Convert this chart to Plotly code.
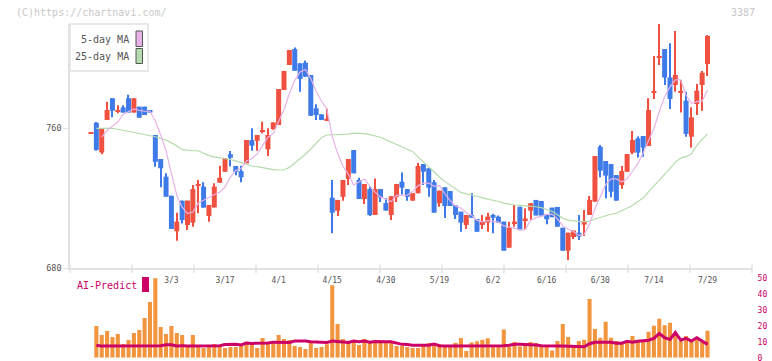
import plotly.graph_objects as go
import pandas as pd

W, H = 772, 361
PL, PR = 70, 752          # plot area left/right in px
X0, DX = 91.0, 5.361      # px of first candle, px per candle

# ---------------- data ----------------
opens = [757, 763, 746, 764.6, 777, 769.5, 771.8, 777, 768.8, 772.2,
         772.2, 770.3, 756, 742.3, 732.2, 721.3, 701, 718.5, 704.6, 705.9,
         727.3, 726.5, 709.7, 714.6, 728.7, 735, 745, 738.3, 735.4, 739.8,
         753.1, 752.7, 758, 747.8, 759.4, 761.7, 781.7, 796, 805.1, 797,
         797.3, 790.3, 771.3, 767.8, 764.6, 720.2, 712.7, 720.7, 730.9, 747.4,
         730.3, 719.4, 725.1, 710.3, 725.1, 717.1, 710.3, 720.7, 729.3, 725.1,
         718.5, 722.7, 739.4, 737, 729, 717, 726.1, 724, 715.8, 712.2,
         704.6, 710.3, 708, 704.6, 705.9, 710.3, 709.3, 706.5, 691.6, 705.5,
         715, 707.4, 712.8, 718.9, 718.3, 710.7, 714.5, 714.9, 703, 689.9,
         697.7, 700.2, 704.8, 710.3, 717.9, 749.3, 741.1, 739.4, 733.1, 727.4,
         735, 745.9, 754.1, 755.4, 749.7, 780, 800, 805.1, 788.9, 784.6,
         780.3, 775.6, 755, 773.7, 784.6, 796.6]
highs = [757, 763.5, 760, 775, 777, 773, 773, 779, 777, 772.2,
         772.2, 770.3, 756, 742.3, 734.1, 721.3, 711.6, 718.5, 718.5, 727.4,
         730.3, 729, 716, 728.5, 738.5, 742.7, 746.9, 738.3, 738.5, 753.1,
         759.8, 756, 763.6, 759.8, 763.2, 782.3, 792.6, 804.6, 806, 797,
         798.5, 790.3, 773.6, 767.8, 771, 730.3, 718.9, 730.3, 742.3, 747.4,
         731.6, 728, 726.6, 731.2, 725.1, 720, 721, 728, 734.6, 725.1,
         722.7, 740, 739.4, 737, 730.3, 724.2, 726.1, 724, 715.8, 712.2,
         710.3, 722.7, 708, 710.3, 711.6, 711, 710, 706.5, 706.5, 716,
         715, 714, 717, 718.9, 718.3, 710.7, 714.5, 714.9, 703, 700.2,
         701.4, 710.3, 713.1, 721.1, 744, 750.3, 741.1, 739.4, 733.1, 738.3,
         745.1, 758.3, 755.2, 755.4, 777, 801.1, 819.4, 805.1, 808.4, 815.4,
         787.4, 780.7, 771.8, 785.1, 792.6, 813.1]
lows = [757, 747, 745, 764.6, 766.1, 768.4, 768.8, 768.8, 768.8, 765.9,
        767.4, 768.8, 737.9, 726.1, 720.7, 702.3, 695.6, 705.5, 701.7, 703.6,
        711.3, 714.5, 706.5, 714.6, 728.7, 735, 738, 733, 729, 739.8,
        747, 747, 757, 744, 759, 761.7, 781.7, 796, 792.7, 780.7,
        789.3, 767, 764.6, 764.6, 764.6, 699.8, 709.7, 718.5, 727.4, 734.1,
        719.4, 716.6, 709.7, 710.3, 717.7, 712.8, 707.4, 717.7, 722, 718.5,
        718.5, 722.7, 727.4, 720.7, 711.6, 715, 708.6, 715.4, 708, 700.7,
        702.3, 708.7, 700.7, 702.3, 700.7, 699.8, 705.9, 689.9, 691.6, 703.6,
        702.1, 702, 707.4, 710, 710, 705, 709, 703.6, 689.9, 684.6,
        696.5, 696, 698.3, 710.3, 717.9, 731.8, 719.8, 720.4, 718.5, 725.3,
        735, 745, 743.2, 743.6, 749.7, 776.6, 796, 784.6, 770.9, 780.7,
        768.8, 755, 748.8, 767.4, 769.9, 789.7]
closes = [757, 747.5, 760, 770.3, 769.9, 770, 768.8, 768.8, 777, 765.9,
          767.4, 768.8, 740.7, 737, 720.7, 702.3, 706.5, 707.4, 718.5, 725.1,
          728, 714.5, 716, 726.5, 731.6, 742.7, 743, 735, 731.8, 753.1,
          749.9, 756, 758.8, 756, 763.2, 782.3, 792.6, 804.6, 792.7, 788,
          789.3, 767, 767.4, 764.6, 765.2, 711.6, 718.9, 730.3, 742.3, 734.1,
          719.4, 728, 710.3, 725.1, 720.4, 712.8, 721, 728, 725.9, 720.7,
          722.7, 738.3, 735, 725.9, 711.6, 724.2, 715.4, 715.4, 710.3, 705.9,
          710.3, 708.7, 700.7, 706.5, 709.3, 708.7, 705.9, 689.9, 703, 706.5,
          702.1, 708.3, 717, 710, 710, 707.8, 709, 703.6, 689.9, 700.2,
          701.4, 698, 706.9, 718.9, 744, 735.6, 732.8, 723.6, 718.5, 735.4,
          745.1, 753.1, 745.9, 748.8, 770.3, 780.8, 800.8, 788.8, 776.6, 790.3,
          781.1, 756.6, 766.1, 781.3, 791.6, 812.6]

ma25 = [None, 759.8, 759.8, 759.8, 759.8, 759.3, 758.7, 758.1, 757.5, 757.0,
        756.5, 755.8, 755.0, 754.0, 753.1, 751.5, 749.8, 747.6, 747.2, 747.0,
        747.0, 745.5, 744.2, 743.5, 743.0, 742.7, 742.0, 741.2, 740.2, 739.0,
        738.3, 737.9, 737.3, 736.8, 736.2, 736.0, 736.0, 737.5, 740.0, 742.0,
        745.0, 748.0, 751.5, 754.5, 756.0, 756.2, 756.2, 756.2, 756.5, 757.1,
        757.1, 756.8, 756.2, 755.5, 754.7, 753.3, 751.8, 750.6, 749.3, 747.9,
        746.5, 743.5, 740.6, 737.5, 734.8, 732.0, 729.5, 727.3, 725.0, 723.2,
        722.4, 721.9, 721.0, 720.1, 719.5, 719.0, 718.0, 717.1, 716.4, 716.0,
        715.8, 715.6, 715.3, 715.0, 714.5, 713.5, 712.4, 710.5, 708.4, 707.4,
        706.8, 706.6, 706.5, 706.8, 708.0, 709.0, 710.0, 710.7, 711.3, 712.8,
        714.3, 715.7, 718.0, 720.0, 723.5, 727.0, 730.3, 733.5, 736.8, 740.5,
        742.8, 743.6, 745.3, 750.0, 753.5, 756.5]

volume = [0, 19.9, 14.3, 16.8, 13, 14.9, 8.6, 11.1, 15.5, 17.4,
          25, 35, 55, 19.3, 14.9, 19.9, 15.5, 14.3, 6.9, 14.3,
          6.9, 6.1, 7.8, 8.6, 7.8, 6.1, 6.7, 6.7, 7.8, 10,
          8.4, 6.1, 12.4, 9.2, 10, 14.3, 11.8, 11.1, 7.3, 6.7,
          5.5, 9.4, 6.1, 6.7, 8.4, 45.7, 21.2, 11.8, 9.9, 11.1,
          8, 11.8, 9.9, 10.5, 9.9, 10.5, 9.9, 7.3, 7.3, 6.7,
          6.1, 6.1, 7.5, 9.2, 7.8, 8.4, 7.5, 7.5, 9.4, 12.4,
          4.2, 9.6, 10.3, 11.3, 12.2, 7, 7, 17.7, 7, 9.9,
          7, 9.2, 9.9, 9.2, 7, 7.5, 4.6, 10.5, 21.2, 13,
          7, 10.5, 11.3, 36.9, 18, 12.6, 22.6, 12.6, 10.5, 9.7,
          10.5, 13.6, 10.5, 10.5, 16.4, 20.1, 24.5, 20.5, 22, 15.3,
          10.5, 13.6, 10.5, 12.8, 10.5, 17]

ai_predict = [None, 7.9, 7.3, 7.3, 7.3, 7.3, 7.3, 7.3, 7.3, 7.3,
              7.3, 7.3, 7.3, 7.5, 8.1, 8.1, 7.4, 7.6, 7.3, 7.3,
              7.3, 7.6, 7.3, 7.3, 7.6, 8.3, 8.3, 8.5, 8.0, 9.3,
              9.0, 9.0, 8.8, 9.2, 9.8, 9.8, 9.4, 9.6, 10.5, 10.5,
              10.5, 10.0, 9.9, 10.0, 9.6, 10.5, 10.1, 10.1, 9.6, 10.5,
              10.1, 10.5, 9.8, 10.2, 10.3, 10.0, 10.0, 9.0, 8.4, 8.3,
              7.8, 7.8, 7.8, 7.8, 8.6, 7.5, 7.3, 7.3, 7.3, 7.3,
              7.3, 7.3, 7.3, 7.3, 7.3, 7.3, 7.3, 7.5, 7.8, 8.4,
              8.4, 8.4, 8.4, 8.0, 7.5, 7.3, 7.3, 7.3, 7.3, 7.3,
              7.3, 7.3, 6.9, 8.8, 9.7, 9.7, 9.7, 9.7, 9.1, 9.1,
              10.3, 9.7, 10.3, 10.5, 11.0, 12.2, 15.3, 12.6, 11.5, 15.8,
              11.1, 12.2, 10.5, 12.6, 10.5, 8.4]

tick_idx = [15, 25, 35, 45, 55, 65, 75, 85, 95, 105, 115]
tick_text = ["3/3", "3/17", "4/1", "4/15", "4/30", "5/19", "6/2", "6/16",
             "6/30", "7/14", "7/29"]
vol_ticks = [0, 10, 20, 30, 40, 50]

# ---------------- styling ----------------
RED, BLUE = "#f0503f", "#3f7be8"
PINK, GREEN = "#e8b2e8", "#b5dbac"
ORANGE, MAGENTA = "#f2953f", "#cc0066"
AXIS = "#e2e2e2"
MONO = "DejaVu Sans Mono"

n = len(closes)
idx = list(range(n))
ma5 = pd.Series(closes).rolling(5, min_periods=3).mean().tolist()

col = [RED if c >= o else BLUE for o, c in zip(opens, closes)]
MINB = 0.8
body_base, body_h = [], []
for o, c in zip(opens, closes):
    lo, hi = min(o, c), max(o, c)
    h = hi - lo
    if h < MINB:
        mid = (lo + hi) / 2
        body_base.append(mid - MINB / 2)
        body_h.append(MINB)
    else:
        body_base.append(lo)
        body_h.append(h)
wick_h = [h - l for h, l in zip(highs, lows)]


def pxx(p):
    return (p - PL) / (PR - PL)


def pxy(p):
    return 1 - p / H


fig = go.Figure()
fig.add_trace(go.Scatter(x=idx, y=ma25, mode="lines", line=dict(color=GREEN, width=1.2),
                         hoverinfo="skip", xaxis="x", yaxis="y"))
fig.add_trace(go.Scatter(x=idx, y=ma5, mode="lines", line=dict(color=PINK, width=1.2),
                         hoverinfo="skip", xaxis="x", yaxis="y"))
fig.add_trace(go.Bar(x=idx, y=wick_h, base=lows, width=0.22, marker=dict(color=col, line=dict(width=0)),
                     hoverinfo="skip", xaxis="x", yaxis="y"))
fig.add_trace(go.Bar(x=idx, y=body_h, base=body_base, width=0.93, marker=dict(color=col, line=dict(width=0)),
                     hoverinfo="skip", xaxis="x", yaxis="y"))
fig.add_trace(go.Bar(x=idx, y=volume, width=0.76, marker=dict(color=ORANGE, line=dict(width=0)),
                     hoverinfo="skip", xaxis="x2", yaxis="y2"))
fig.add_trace(go.Scatter(x=idx, y=ai_predict, mode="lines", line=dict(color=MAGENTA, width=3),
                         hoverinfo="skip", xaxis="x2", yaxis="y2"))

xr = [(PL - X0) / DX, (PR - X0) / DX]
ytop_price = 760 + (128 - 24) / 1.75

shapes = []
# x-axis tick marks (decorative, evenly spaced)
for k in range(12):
    shapes.append(dict(type="line", xref="paper", yref="paper", x0=k / 11, x1=k / 11,
                       y0=pxy(264.5), y1=pxy(273), line=dict(color=AXIS, width=1.5)))
# legend box
shapes.append(dict(type="rect", xref="paper", yref="paper", x0=pxx(70), x1=pxx(148),
                   y0=pxy(71), y1=pxy(24), line=dict(color=AXIS, width=1.5), fillcolor="white", layer="below"))
shapes.append(dict(type="rect", xref="paper", yref="paper", x0=pxx(136), x1=pxx(142.5),
                   y0=pxy(46.5), y1=pxy(31), line=dict(color="#555", width=1), fillcolor=PINK))
shapes.append(dict(type="rect", xref="paper", yref="paper", x0=pxx(136), x1=pxx(142.5),
                   y0=pxy(63.5), y1=pxy(48.5), line=dict(color="#555", width=1), fillcolor=GREEN))
# AI-Predict marker block
shapes.append(dict(type="rect", xref="paper", yref="paper", x0=pxx(142), x1=pxx(149),
                   y0=pxy(292), y1=pxy(277), line=dict(width=0), fillcolor=MAGENTA))


def ann(text, x, y, anchor, size, color):
    return dict(text=text, xref="paper", yref="paper", x=pxx(x), y=pxy(y), xanchor=anchor,
                yanchor="middle", showarrow=False, font=dict(family=MONO, size=size, color=color))


annotations = [
    ann("(C)https://chartnavi.com/", 14, 12, "left", 10, "#c8c8c8"),
    ann("3387", 757, 12, "right", 10, "#c8c8c8"),
    ann("5-day MA", 131, 39.5, "right", 10, "#555"),
    ann("25-day MA", 131, 56.5, "right", 10, "#555"),
    ann("AI-Predict", 75, 285.5, "left", 10, MAGENTA),
]

fig.update_layout(
    width=W, height=H, margin=dict(l=PL, r=W - PR, t=0, b=0, autoexpand=False),
    paper_bgcolor="white", plot_bgcolor="rgba(0,0,0,0)", showlegend=False,
    barmode="overlay",
    xaxis=dict(domain=[0, 1], range=xr, anchor="y", tickmode="array", tickvals=tick_idx,
               ticktext=tick_text, showline=True, linecolor=AXIS, linewidth=1.5,
               ticks="outside", ticklen=4, tickcolor="rgba(0,0,0,0)", automargin=False,
               tickfont=dict(family=MONO, size=8, color="#555"), showgrid=False, zeroline=False),
    yaxis=dict(domain=[pxy(268), pxy(24)], range=[680, ytop_price], anchor="x",
               tickmode="array", tickvals=[680, 760], showline=True, linecolor=AXIS, linewidth=1.5,
               ticks="outside", ticklen=5, tickcolor=AXIS, automargin=False,
               tickfont=dict(family=MONO, size=8.5, color="#555"), showgrid=False, zeroline=False),
    xaxis2=dict(domain=[0, 1], range=xr, anchor="y2", visible=False, automargin=False),
    yaxis2=dict(domain=[pxy(357.7), pxy(278.3)], range=[0, 50], anchor="x2", side="right",
                tickmode="array", tickvals=vol_ticks, showline=False, showgrid=False, zeroline=False,
                ticks="outside", ticklen=3, tickcolor="rgba(0,0,0,0)", automargin=False,
                ticklabeloverflow="allow",
                tickfont=dict(family=MONO, size=8, color=MAGENTA)),
    shapes=shapes, annotations=annotations,
)

fig.write_html("out.html")
